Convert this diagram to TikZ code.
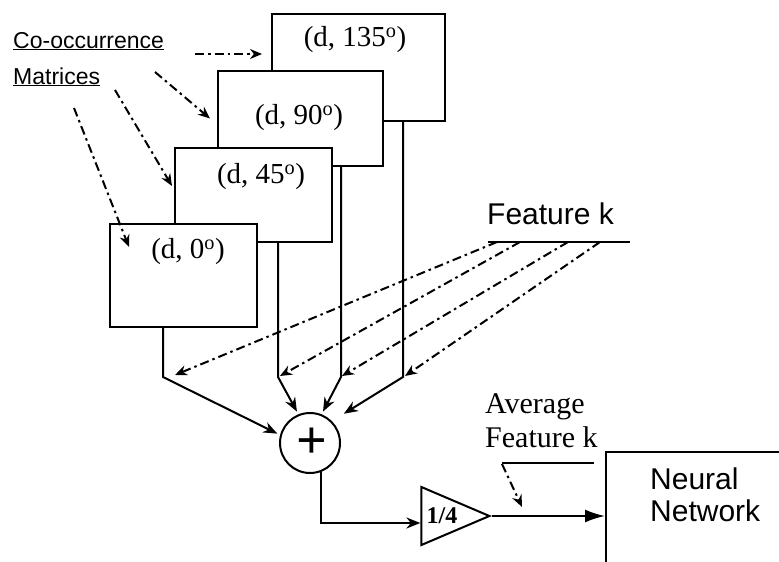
\documentclass[tikz,border=0pt]{standalone}
\usepackage{fontspec}
\setmainfont{Liberation Serif}
\setsansfont{Liberation Sans}
\usetikzlibrary{arrows.meta}
\usetikzlibrary{positioning}
\usetikzlibrary{fit}
\usetikzlibrary{shapes.geometric}

\tikzset{
  mat/.style={draw,fill=white,line width=2pt,inner sep=0pt},
  lbl/.style={font=\fontsize{29}{34}\selectfont,inner sep=0pt},
  sanslbl/.style={font=\sffamily\fontsize{30}{34}\selectfont,inner sep=0pt,anchor=base west},
  seriflbl/.style={font=\fontsize{30}{34}\selectfont,inner sep=0pt,anchor=base west},
  wire/.style={line width=2pt,-{Stealth[length=14pt,width=11pt]}},
  pointer/.style={line width=2pt,dash pattern=on 9pt off 4pt on 2.5pt off 4pt,-{Stealth[length=12pt,width=10pt]}},
}

\begin{document}
\begin{tikzpicture}[x=1pt,y=-1pt]
  \useasboundingbox (0,0) rectangle (779,562);
  \clip (0,0) rectangle (779,562);
  % the four matrices, back to front
  \node[mat,fit={(272,14)(445,121)}] (m135){};
  \node[mat,fit={(218,71)(383,166)}] (m90){};
  \node[mat,fit={(175,148)(332,242)}] (m45){};
  \node[mat,fit={(110,224)(257,327)}] (m0){};
  \node[lbl] (t135) at (355,40) {(d, 135\textsuperscript{o})};
  \node[lbl] (t90) at (299,118) {(d, 90\textsuperscript{o})};
  \node[lbl] (t45) at (261,177) {(d, 45\textsuperscript{o})};
  \node[lbl] (t0) at (188,252) {(d, 0\textsuperscript{o})};
  \node[font=\sffamily\fontsize{23}{28}\selectfont,inner sep=0pt,anchor=base west] (co1) at (13,48) {\underline{Co-occurrence}};
  \node[font=\sffamily\fontsize{23}{28}\selectfont,inner sep=0pt,anchor=base west] (co2) at (13,84) {\underline{Matrices}};
  \coordinate (c1) at (195,54);
  \coordinate (c2) at (155,72);
  \coordinate (c3) at (115,90);
  \coordinate (c4) at (74,108);
  \draw[pointer] (c1) -- ([xshift=-9pt]m135.west |- c1);
  \draw[pointer] (c2) -- ([xshift=-7pt]m90.west);
  \draw[pointer] (c3) -- ([xshift=-2pt,yshift=9pt]m45.west);
  \draw[pointer] (c4) -- ([xshift=20pt,yshift=-24pt]m0.north west);
  % summing point
  \node[draw,circle,line width=2pt,minimum size=60pt,inner sep=0pt,font=\fontsize{54}{54}\selectfont\bfseries] (sum) at (310,443) {\raisebox{-3pt}{\hspace{4pt}+}};
  \coordinate (j0) at (163,377);
  \coordinate (j45) at (278,377);
  \coordinate (j90) at (341,377);
  \coordinate (j135) at (403,377);
  \draw[wire,shorten >=3pt] (m0.south -| j0) -- (j0) -- (sum.165);
  \draw[wire,shorten >=3pt] (m45.south -| j45) -- (j45) -- (sum.112);
  \draw[wire,shorten >=3pt] (m90.south -| j90) -- (j90) -- (sum.68);
  \draw[wire,shorten >=14pt] (m135.south -| j135) -- (j135) -- (sum.45);
  % feature k
  \node[sanslbl] (fk) at (487,224) {Feature k};
  \coordinate (fkl) at (488,242);
  \coordinate (fkr) at (630,242);
  \draw[line width=2pt] (fkl) -- (fkr);
  \draw[pointer] ([xshift=9pt]fkl) -- ([xshift=12pt,yshift=2pt]j0);
  \draw[pointer] ([xshift=32pt]fkl) -- ([xshift=2pt,yshift=1pt]j45);
  \draw[pointer] ([xshift=80pt]fkl) -- ([xshift=1pt,yshift=1pt]j90);
  \draw[pointer] ([xshift=112pt]fkl) -- ([xshift=2pt,yshift=1pt]j135);
  % averaging
  \node[draw,line width=2pt,isosceles triangle,isosceles triangle stretches,minimum width=58pt,minimum height=68pt,inner sep=0pt,anchor=apex,font=\fontsize{24}{24}\selectfont\bfseries] (amp) at (492,516) {1/4};
  \coordinate (ja) at (320,523);
  \draw[wire] (sum.-70) -- (sum.-70 |- ja) -- (amp.west |- ja);
  % neural network
  \node[draw,line width=2pt,inner sep=0pt,fit={(606,452)(800,600)}] (nn){};
  \node[sanslbl] (nn1) at (650,489) {Neural};
  \node[sanslbl] (nn2) at (650,521) {Network};
  \draw[line width=2pt,-{Latex[length=20pt,width=13pt]}] (amp.apex) -- (amp.apex -| nn.west);
  \node[seriflbl] (av1) at (485,413) {Average};
  \node[seriflbl] (av2) at (485,447) {Feature k};
  \coordinate (avl) at (502,463);
  \coordinate (avr) at (594,463);
  \draw[line width=2pt] (avl) -- (avr);
  \draw[pointer] ([yshift=-1pt]avl) -- (522,507);
\end{tikzpicture}
\end{document}
